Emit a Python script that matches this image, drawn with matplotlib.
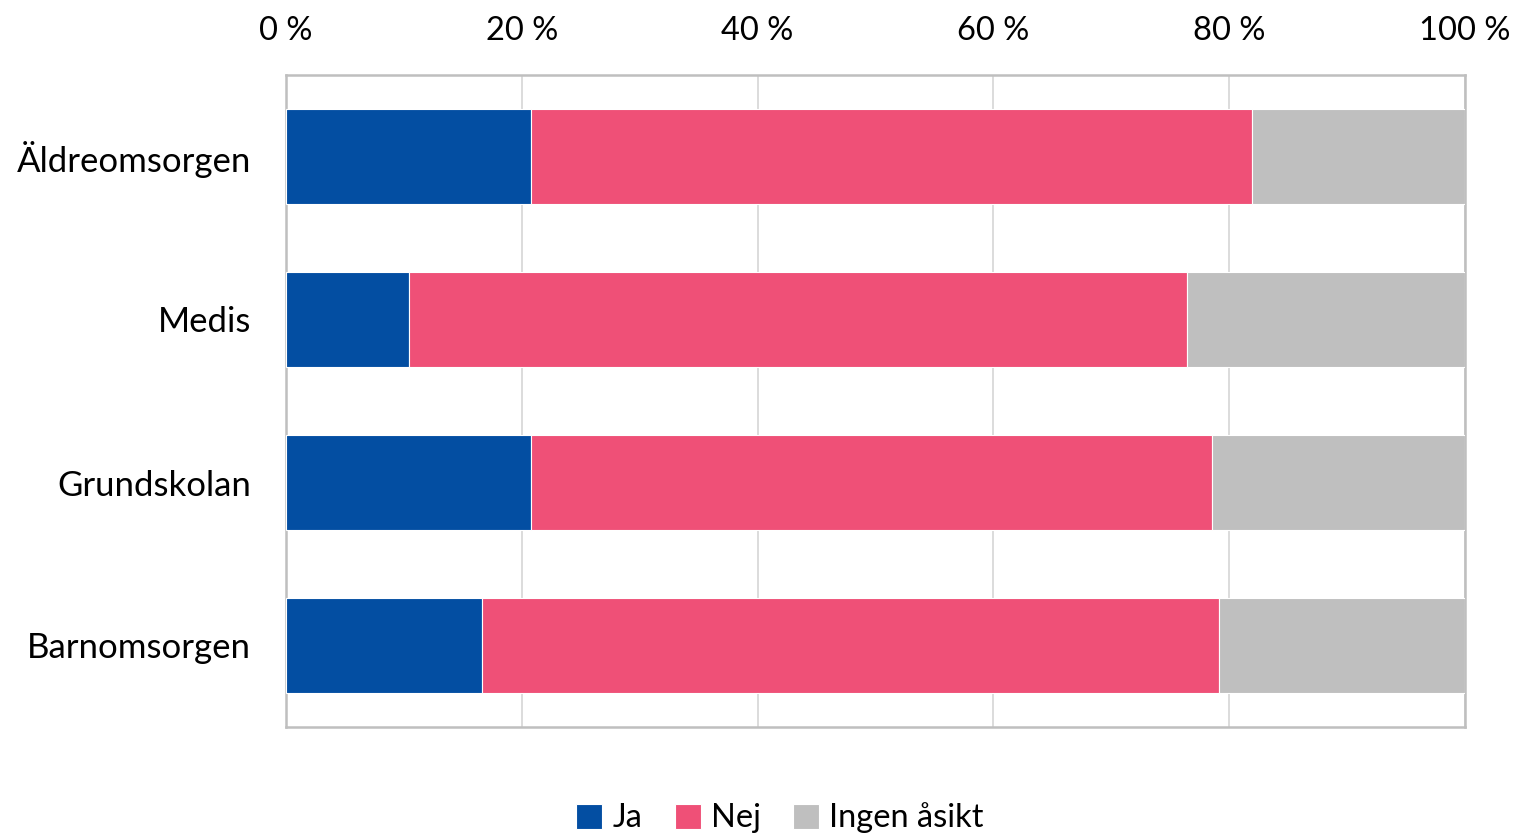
import matplotlib
matplotlib.use("Agg")
import matplotlib.pyplot as plt
from matplotlib.ticker import FuncFormatter
import numpy as np

categories = ["Äldreomsorgen", "Medis", "Grundskolan", "Barnomsorgen"]
ja = [20.8, 10.4, 20.8, 16.6]
nej = [61.1, 66.0, 57.7, 62.5]
ingen = [18.1, 23.6, 21.5, 20.9]
series_names = ["Ja", "Nej", "Ingen åsikt"]
colors = ["#034EA2", "#EF5077", "#BFBFBF"]
xticks = [0, 20, 40, 60, 80, 100]

plt.rcParams['font.family'] = ['Lato', 'DejaVu Sans']

fig = plt.figure(figsize=(15.17, 8.36), dpi=100)
ax = fig.add_axes([286/1517, 1-727/836, (1465-286)/1517, (727-75)/836])

y = np.arange(len(categories))
left = np.zeros(len(categories))
for name, vals, c in zip(series_names, [ja, nej, ingen], colors):
    ax.barh(y, vals, left=left, height=0.577, color=c, edgecolor="white",
            linewidth=0.8, label=name, zorder=3)
    left = left + np.array(vals)

ax.set_xlim(0, 100)
ax.set_ylim(len(categories) - 0.5, -0.5)
ax.set_yticks(y)
ax.set_yticklabels(categories, fontsize=25)
ax.set_xticks(xticks)
ax.xaxis.set_major_formatter(FuncFormatter(lambda v, p: f"{int(v)} %"))
ax.xaxis.tick_top()
ax.tick_params(axis='x', labelsize=23.5, length=0, pad=21)
ax.tick_params(axis='y', length=0, pad=25)
ax.grid(axis='x', color="#D9D9D9", linewidth=1.3, zorder=0)
for s in ax.spines.values():
    s.set_color("#BFBFBF")
    s.set_linewidth(1.8)

handles, labels = ax.get_legend_handles_labels()
leg = fig.legend(handles, labels, loc='center', bbox_to_anchor=(780/1517, 1-818/836),
                 ncol=3, frameon=False, fontsize=23.5, handlelength=0.8, handleheight=0.8,
                 handletextpad=0.3, columnspacing=1.0, borderaxespad=0)

fig.savefig("out.png", dpi=100)
